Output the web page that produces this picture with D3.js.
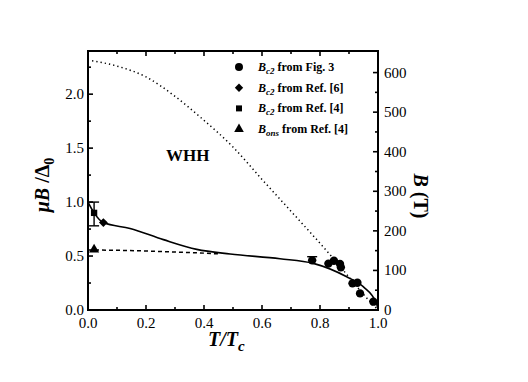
<!DOCTYPE html>
<html><head><meta charset="utf-8">
<script src="https://cdn.jsdelivr.net/npm/d3@7"></script>
<style>body{margin:0;background:#fff}svg{display:block}</style>
</head><body><svg id="c" width="528" height="382"></svg>
<script>
// ---- data ----
const xTicks = [0, 0.2, 0.4, 0.6, 0.8, 1.0];
const yTicks = [0, 0.5, 1.0, 1.5, 2.0];
const yRightTicks = [0, 100, 200, 300, 400, 500, 600];
const fig3T = [0.773, 0.829, 0.848, 0.869, 0.872, 0.912, 0.929, 0.938, 0.984];
const fig3B = [0.46, 0.43, 0.456, 0.426, 0.395, 0.247, 0.253, 0.154, 0.077];
const fig3ErrHi = [0.494, null, null, null, null, null, null, null, null];
const ref6T = [0.053];
const ref6B = [0.81];
const ref4T = [0.021];
const ref4B = [0.90];
const ref4Lo = [0.78];
const ref4Hi = [1.0];
const onsT = [0.021];
const onsB = [0.56];
const fitT = [0, 0.021, 0.053, 0.145, 0.26, 0.375, 0.49, 0.662, 0.777, 0.892, 0.949, 0.995, 1.0];
const fitB = [1.0, 0.9, 0.81, 0.756, 0.652, 0.562, 0.519, 0.475, 0.432, 0.308, 0.216, 0.06, 0.0];
const onsLineT = [0, 0.1, 0.2, 0.3, 0.4, 0.45];
const onsLineB = [0.556, 0.553, 0.547, 0.537, 0.527, 0.52];
const whhT = [0.014, 0.1, 0.2, 0.3, 0.386, 0.5, 0.6, 0.7, 0.846, 0.955, 1.0];
const whhB = [2.31, 2.26, 2.16, 1.98, 1.79, 1.51, 1.21, 0.915, 0.478, 0.13, 0.0];
const legendLabels = [["B","c2"," from Fig. 3"],["B","c2"," from Ref. [6]"],["B","c2"," from Ref. [4]"],["B","ons"," from Ref. [4]"]];

// ---- layout ----
const L = 88, R = 378, T = 51, Bm = 310;
const svg = d3.select("#c");
const x = d3.scaleLinear().domain([0, 1]).range([L, R]);
const y = d3.scaleLinear().domain([0, 2.4]).range([Bm, T]);
const yR = d3.scaleLinear().domain([0, 2.4 * 600 / 2.2]).range([Bm, T]);

// ticks (inward)
const tg = svg.append("g").attr("stroke", "#000").attr("stroke-width", 1.6);
d3.range(0, 1.0001, 0.1).forEach((v, i) => {
  const len = i % 2 === 0 ? 5 : 3;
  tg.append("line").attr("x1", x(v)).attr("x2", x(v)).attr("y1", Bm).attr("y2", Bm - len);
  tg.append("line").attr("x1", x(v)).attr("x2", x(v)).attr("y1", T).attr("y2", T + len);
});
d3.range(0, 2.4, 0.25).forEach((v, i) => {
  const len = i % 2 === 0 ? 5 : 3;
  tg.append("line").attr("x1", L).attr("x2", L + len).attr("y1", y(v)).attr("y2", y(v));
});
d3.range(0, 650, 50).forEach((v, i) => {
  const len = i % 2 === 0 ? 5 : 3;
  tg.append("line").attr("x1", R).attr("x2", R - len).attr("y1", yR(v)).attr("y2", yR(v));
});

// frame
svg.append("rect").attr("x", L).attr("y", T).attr("width", R - L).attr("height", Bm - T)
  .attr("fill", "none").attr("stroke", "#000").attr("stroke-width", 2);

// tick labels
const fmt = d3.format(".1f");
svg.append("g").selectAll("text").data(xTicks).join("text")
  .attr("x", d => x(d)).attr("y", 328).attr("text-anchor", "middle")
  .attr("font-size", 15).text(fmt);
svg.append("g").selectAll("text").data(yTicks).join("text")
  .attr("x", 84).attr("y", d => y(d) + 5).attr("text-anchor", "end")
  .attr("font-size", 15).text(fmt);
svg.append("g").selectAll("text").data(yRightTicks).join("text")
  .attr("x", 384).attr("y", d => yR(d) + 5).attr("text-anchor", "start")
  .attr("font-size", 15).text(d => d);

// curves
const line = d3.line().x(d => x(d[0])).y(d => y(d[1])).curve(d3.curveMonotoneX);
svg.append("path").attr("d", line(whhT.map((t, i) => [t, whhB[i]])))
  .attr("fill", "none").attr("stroke", "#000").attr("stroke-width", 1.5)
  .attr("stroke-dasharray", "1.3,3");
svg.append("path").attr("d", line(onsLineT.map((t, i) => [t, onsLineB[i]])))
  .attr("fill", "none").attr("stroke", "#000").attr("stroke-width", 1.5)
  .attr("stroke-dasharray", "4,3");
svg.append("path").attr("d", line(fitT.map((t, i) => [t, fitB[i]])))
  .attr("fill", "none").attr("stroke", "#000").attr("stroke-width", 1.6);

// error bars
const eb = svg.append("g").attr("stroke", "#000").attr("stroke-width", 1.4);
fig3T.forEach((t, i) => {
  if (fig3ErrHi[i] == null) return;
  eb.append("line").attr("x1", x(t)).attr("x2", x(t)).attr("y1", y(fig3B[i])).attr("y2", y(fig3ErrHi[i]));
  eb.append("line").attr("x1", x(t) - 5).attr("x2", x(t) + 5).attr("y1", y(fig3ErrHi[i])).attr("y2", y(fig3ErrHi[i]));
});
ref4T.forEach((t, i) => {
  eb.append("line").attr("x1", x(t)).attr("x2", x(t)).attr("y1", y(ref4Lo[i])).attr("y2", y(ref4Hi[i]));
  [ref4Lo[i], ref4Hi[i]].forEach(v => eb.append("line").attr("x1", x(t) - 5).attr("x2", x(t) + 5).attr("y1", y(v)).attr("y2", y(v)));
});

// markers
const sym = (type, size) => d3.symbol().type(type).size(size)();
svg.append("g").selectAll("path").data(fig3T.map((t, i) => [t, fig3B[i]])).join("path")
  .attr("transform", d => `translate(${x(d[0])},${y(d[1])})`).attr("d", sym(d3.symbolCircle, 55));
svg.append("g").selectAll("path").data(ref6T.map((t, i) => [t, ref6B[i]])).join("path")
  .attr("transform", d => `translate(${x(d[0])},${y(d[1])})`).attr("d", sym(d3.symbolDiamond2, 50));
svg.append("g").selectAll("path").data(ref4T.map((t, i) => [t, ref4B[i]])).join("path")
  .attr("transform", d => `translate(${x(d[0])},${y(d[1])})`).attr("d", sym(d3.symbolSquare, 40));
svg.append("g").selectAll("path").data(onsT.map((t, i) => [t, onsB[i]])).join("path")
  .attr("transform", d => `translate(${x(d[0])},${y(d[1])})`).attr("d", sym(d3.symbolTriangle, 45));

// legend
const legSyms = [[d3.symbolCircle, 50], [d3.symbolDiamond2, 45], [d3.symbolSquare, 36], [d3.symbolTriangle, 40]];
legendLabels.forEach((lab, i) => {
  const yy = 67 + i * 20.7;
  svg.append("path").attr("transform", `translate(239,${yy})`).attr("d", sym(legSyms[i][0], legSyms[i][1]));
  const t = svg.append("text").attr("x", 258).attr("y", yy + 4).attr("font-size", 12).attr("font-weight", "bold");
  t.append("tspan").attr("font-style", "italic").text(lab[0]);
  t.append("tspan").attr("font-style", "italic").attr("font-size", 9).attr("dy", 3).text(lab[1]);
  t.append("tspan").attr("dy", -3).text(lab[2]);
});

// WHH label
svg.append("text").attr("x", 166).attr("y", 161).attr("font-size", 17).attr("font-weight", "bold").text("WHH");

// axis titles
const xt = svg.append("text").attr("x", 208).attr("y", 346).attr("font-size", 20)
  .attr("font-weight", "bold").attr("font-style", "italic");
xt.append("tspan").text("T/T");
xt.append("tspan").attr("font-size", 15).attr("dy", 5).text("c");

const ytl = svg.append("text").attr("transform", "translate(49,185) rotate(-90)")
  .attr("text-anchor", "middle").attr("font-size", 20).attr("font-weight", "bold");
ytl.append("tspan").attr("font-style", "italic").text("μB");
ytl.append("tspan").text(" /Δ");
ytl.append("tspan").attr("font-size", 14).attr("dy", 5).text("0");

const ytr = svg.append("text").attr("transform", "translate(414,196) rotate(90)")
  .attr("text-anchor", "middle").attr("font-size", 20).attr("font-weight", "bold");
ytr.append("tspan").attr("font-style", "italic").text("B");
ytr.append("tspan").text(" (T)");

svg.selectAll("text").style("font-family", '"Liberation Serif"');
</script></body></html>
